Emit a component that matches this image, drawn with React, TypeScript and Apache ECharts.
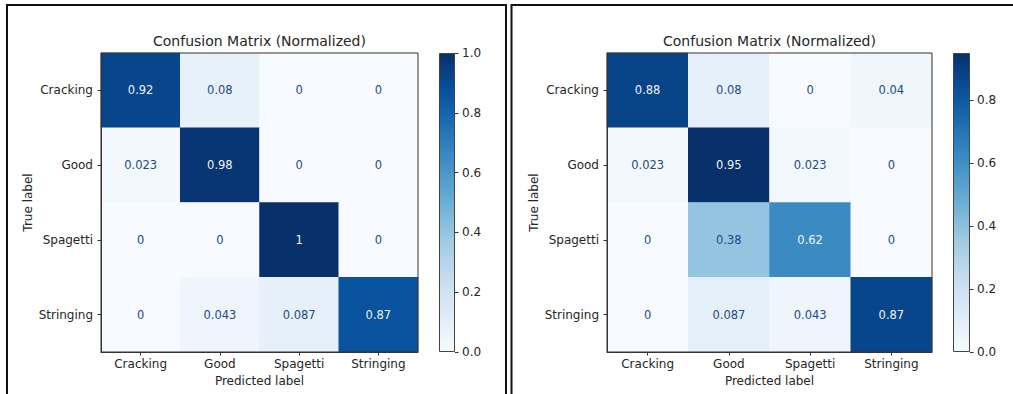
import React, { useEffect, useRef } from "react";
import * as echarts from "echarts";

// Class names shared by both matrices
const classes = ["Cracking", "Good", "Spagetti", "Stringing"];

// Row-normalized confusion matrices (rows = true label, columns = predicted label)
const matrixLeft = [
  [0.92, 0.08, 0, 0],
  [0.023, 0.98, 0, 0],
  [0, 0, 1, 0],
  [0, 0.043, 0.087, 0.87],
];
const matrixRight = [
  [0.88, 0.08, 0, 0.04],
  [0.023, 0.95, 0.023, 0],
  [0, 0.38, 0.62, 0],
  [0, 0.087, 0.043, 0.87],
];

// Colorbar tick labels
const colorbarTicksLeft = [0, 0.2, 0.4, 0.6, 0.8, 1.0];
const colorbarTicksRight = [0, 0.2, 0.4, 0.6, 0.8];

const titleText = "Confusion Matrix (Normalized)";
const xName = "Predicted label";
const yName = "True label";

// matplotlib "Blues" colormap stops
const blues = [
  "#f7fbff",
  "#deebf7",
  "#c6dbef",
  "#9ecae1",
  "#6baed6",
  "#4292c6",
  "#2171b5",
  "#08519c",
  "#08306b",
];

const FONT = '"DejaVu Sans", "Noto Sans", sans-serif';
const TEXT_DARK = "#262626";
const LABEL_DARK = "#24498a";
const LABEL_LIGHT = "#eef3fa";

function buildCells(matrix: number[][]) {
  const flat = matrix.flat();
  const mn = Math.min(...flat);
  const mx = Math.max(...flat);
  const thresh = (mn + mx) / 2;
  const cells: any[] = [];
  matrix.forEach((row, r) =>
    row.forEach((v, c) => {
      cells.push({
        value: [c, r, v],
        label: { color: v < thresh ? LABEL_DARK : LABEL_LIGHT },
      });
    })
  );
  return { cells, max: mx };
}

export default function App() {
  const ref = useRef<HTMLDivElement>(null);

  useEffect(() => {
    if (!ref.current) return;
    const chart = echarts.init(ref.current, null, { renderer: "svg" });

    const L = buildCells(matrixLeft);
    const R = buildCells(matrixRight);

    const gridL = { left: 101, top: 53, width: 317, height: 299 };
    const gridR = { left: 607, top: 53, width: 325, height: 299 };
    const cbL = { left: 439, top: 53, width: 16, height: 299 };
    const cbR = { left: 953, top: 53, width: 17, height: 299 };

    const heatGrid = (g: any) => ({
      ...g,
      show: true,
      z: 10,
      borderColor: "#333",
      borderWidth: 1,
      backgroundColor: "transparent",
      containLabel: false,
    });
    const cbGrid = (g: any) => ({ ...g, show: false, containLabel: false });

    const catX = (gridIndex: number) => ({
      type: "category",
      gridIndex,
      data: classes,
      z: 11,
      name: xName,
      nameLocation: "middle",
      nameGap: 22,
      nameTextStyle: { fontFamily: FONT, fontSize: 12, color: TEXT_DARK },
      axisLine: { show: true, lineStyle: { color: "#333", width: 1 } },
      axisTick: { show: true, alignWithLabel: true, length: 3.5, lineStyle: { color: "#333" } },
      axisLabel: { fontFamily: FONT, fontSize: 12, color: TEXT_DARK, margin: 6 },
      splitLine: { show: false },
    });
    const catY = (gridIndex: number) => ({
      type: "category",
      gridIndex,
      data: classes,
      inverse: true,
      z: 11,
      name: yName,
      nameLocation: "middle",
      nameGap: 67,
      nameTextStyle: { fontFamily: FONT, fontSize: 12, color: TEXT_DARK },
      axisLine: { show: true, lineStyle: { color: "#333", width: 1 } },
      axisTick: { show: true, alignWithLabel: true, length: 3.5, lineStyle: { color: "#333" } },
      axisLabel: { fontFamily: FONT, fontSize: 12, color: TEXT_DARK, margin: 8 },
      splitLine: { show: false },
    });
    const cbX = (gridIndex: number) => ({
      type: "category",
      gridIndex,
      data: ["cb"],
      show: false,
      boundaryGap: true,
    });
    const cbY = (gridIndex: number, max: number, ticks: number[]) => ({
      type: "value",
      gridIndex,
      min: 0,
      max,
      position: "right",
      axisLine: { show: false },
      axisTick: {
        show: true,
        length: 3.5,
        customValues: ticks,
        lineStyle: { color: "#333" },
      },
      axisLabel: {
        fontFamily: FONT,
        fontSize: 12,
        color: TEXT_DARK,
        margin: 7,
        customValues: ticks,
        formatter: (v: number) => v.toFixed(1),
      },
      splitLine: { show: false },
    });

    const gradient = new echarts.graphic.LinearGradient(
      0,
      1,
      0,
      0,
      blues.map((c, i) => ({ offset: i / (blues.length - 1), color: c }))
    );

    const heatSeries = (idx: number, cells: any[]) => ({
      type: "heatmap",
      xAxisIndex: idx,
      yAxisIndex: idx,
      data: cells,
      z: 2,
      label: {
        show: true,
        fontFamily: FONT,
        fontSize: 11.5,
        formatter: (p: any) => String(p.value[2]),
      },
      itemStyle: { borderWidth: 0 },
      emphasis: { disabled: true },
    });

    const cbSeries = (idx: number, max: number) => ({
      type: "bar",
      xAxisIndex: idx,
      yAxisIndex: idx,
      data: [max],
      barWidth: "100%",
      silent: true,
      itemStyle: { color: gradient, borderColor: "#444", borderWidth: 1 },
    });

    const titleEl = (x: number) => ({
      type: "text",
      x,
      y: 41,
      style: {
        text: titleText,
        fill: TEXT_DARK,
        font: `14px ${FONT}`,
        textAlign: "center",
        textVerticalAlign: "middle",
      },
    });

    chart.setOption({
      animation: false,
      backgroundColor: "#ffffff",
      grid: [heatGrid(gridL), heatGrid(gridR), cbGrid(cbL), cbGrid(cbR)],
      xAxis: [catX(0), catX(1), cbX(2), cbX(3)],
      yAxis: [
        catY(0),
        catY(1),
        cbY(2, L.max, colorbarTicksLeft),
        cbY(3, R.max, colorbarTicksRight),
      ],
      visualMap: [
        {
          type: "continuous",
          show: false,
          seriesIndex: 0,
          min: 0,
          max: L.max,
          dimension: 2,
          inRange: { color: blues },
        },
        {
          type: "continuous",
          show: false,
          seriesIndex: 1,
          min: 0,
          max: R.max,
          dimension: 2,
          inRange: { color: blues },
        },
      ],
      series: [
        heatSeries(0, L.cells),
        heatSeries(1, R.cells),
        cbSeries(2, L.max),
        cbSeries(3, R.max),
      ],
      graphic: [
        titleEl(259.5),
        titleEl(769.5),
        {
          type: "rect",
          shape: { x: 7, y: 5, width: 499, height: 420 },
          style: { fill: "none", stroke: "#111", lineWidth: 2 },
          silent: true,
        },
        {
          type: "rect",
          shape: { x: 511.5, y: 5, width: 540, height: 420 },
          style: { fill: "none", stroke: "#111", lineWidth: 2 },
          silent: true,
        },
      ],
    });

    return () => chart.dispose();
  }, []);

  return (
    <div
      ref={ref}
      style={{ position: "fixed", left: 0, top: 0, width: 1013, height: 394 }}
    />
  );
}
